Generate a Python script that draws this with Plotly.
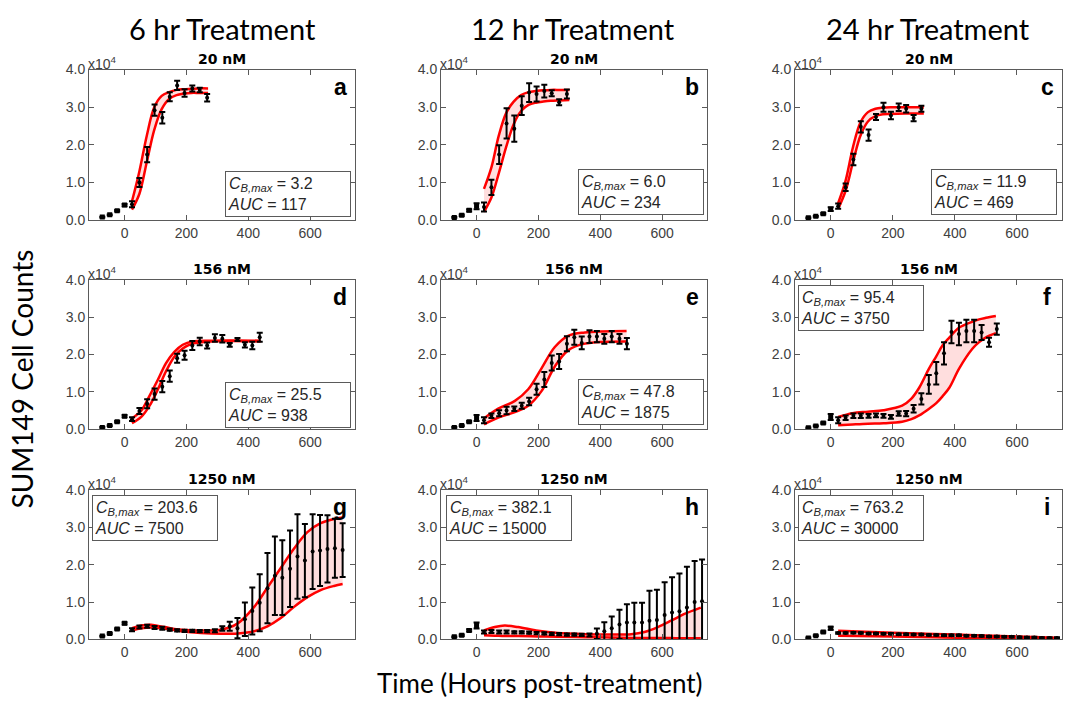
import plotly.graph_objects as go

# ---------------- data (cell counts in units of 1e4) ----------------
PRE_T = [-72, -48, -24, 0]
T = [24, 48, 73, 97, 122, 146, 170, 194, 219, 243, 267, 292, 316, 340, 365,
     389, 413, 437, 462, 486, 510, 535, 559, 583, 608, 632, 656, 680, 705, 729]

COL_TITLES = ["6 hr Treatment", "12 hr Treatment", "24 hr Treatment"]
ROW_TITLES = ["20 nM", "156 nM", "1250 nM"]
LETTERS = ["a", "b", "c", "d", "e", "f", "g", "h", "i"]
CBMAX = ["3.2", "6.0", "11.9", "25.5", "47.8", "95.4", "203.6", "382.1", "763.2"]
AUC = ["117", "234", "469", "938", "1875", "3750", "7500", "15000", "30000"]
X_TICKS = [0, 200, 400, 600]
Y_TICKS = [0, 1, 2, 3, 4]
Y_TICKTEXT = ["0.0", "1.0", "2.0", "3.0", "4.0"]

a_pre = [0.08, 0.14, 0.25, 0.40]
a_pre_e = [0.01, 0.01, 0.02, 0.03]
a_v = [0.42, 1.0, 1.74, 2.92, 2.72, 3.28, 3.58, 3.38, 3.50, 3.46, 3.25]
a_e = [0.08, 0.12, 0.2, 0.15, 0.15, 0.12, 0.12, 0.1, 0.08, 0.06, 0.1]
a_ft = [24, 48, 72, 96, 120, 144, 168, 192, 216, 240, 270]
a_hi = [0.5, 1.3, 2.25, 3.0, 3.3, 3.4, 3.46, 3.48, 3.49, 3.5, 3.5]
a_lo = [0.28, 0.7, 1.55, 2.4, 2.95, 3.22, 3.32, 3.36, 3.38, 3.38, 3.38]

b_pre = [0.07, 0.13, 0.26, 0.37]
b_pre_e = [0.01, 0.02, 0.03, 0.08]
b_v = [0.35, 0.87, 1.74, 2.57, 2.43, 3.04, 3.39, 3.35, 3.43, 3.37, 3.13, 3.35]
b_e = [0.12, 0.2, 0.25, 0.4, 0.35, 0.25, 0.25, 0.2, 0.17, 0.08, 0.08, 0.12]
b_ft = [24, 48, 72, 96, 120, 144, 168, 192, 216, 240, 270, 300]
b_hi = [0.83, 1.4, 2.25, 2.85, 3.15, 3.32, 3.4, 3.43, 3.45, 3.46, 3.46, 3.46]
b_lo = [0.22, 0.6, 1.25, 1.95, 2.55, 2.9, 3.06, 3.12, 3.15, 3.17, 3.18, 3.19]

c_pre = [0.06, 0.10, 0.17, 0.29]
c_pre_e = [0.01, 0.01, 0.02, 0.05]
c_v = [0.37, 0.87, 1.61, 2.48, 2.26, 2.74, 3.0, 2.78, 3.0, 2.96, 2.71, 2.96]
c_e = [0.07, 0.1, 0.15, 0.15, 0.15, 0.08, 0.12, 0.1, 0.1, 0.1, 0.08, 0.08]
c_ft = [24, 48, 72, 96, 120, 144, 168, 192, 240, 300]
c_hi = [0.45, 1.05, 1.95, 2.6, 2.87, 2.96, 2.99, 3.0, 3.0, 3.0]
c_lo = [0.3, 0.78, 1.55, 2.25, 2.62, 2.76, 2.81, 2.82, 2.83, 2.83]

d_pre = [0.05, 0.10, 0.20, 0.35]
d_pre_e = [0.01, 0.01, 0.02, 0.03]
d_v = [0.27, 0.49, 0.68, 0.94, 1.14, 1.42, 1.9, 1.98, 2.24, 2.35, 2.24, 2.44,
       2.42, 2.26, 2.4, 2.26, 2.24, 2.46]
d_e = [0.05, 0.08, 0.12, 0.15, 0.15, 0.15, 0.12, 0.12, 0.12, 0.1, 0.08, 0.1,
       0.1, 0.05, 0.04, 0.07, 0.1, 0.12]
d_ft = [24, 54, 81, 108, 134, 161, 188, 220, 280, 440]
d_hi = [0.29, 0.5, 0.9, 1.33, 1.77, 2.07, 2.26, 2.35, 2.37, 2.37]
d_lo = [0.16, 0.33, 0.63, 1.07, 1.55, 1.94, 2.16, 2.29, 2.35, 2.35]

e_pre = [0.05, 0.10, 0.20, 0.30]
e_pre_e = [0.01, 0.01, 0.02, 0.08]
e_v = [0.24, 0.36, 0.43, 0.5, 0.55, 0.63, 0.74, 1.07, 1.33, 1.77, 1.81, 2.29,
       2.46, 2.31, 2.48, 2.48, 2.42, 2.48, 2.42, 2.29]
e_e = [0.08, 0.06, 0.08, 0.1, 0.06, 0.08, 0.1, 0.15, 0.2, 0.2, 0.2, 0.2,
       0.2, 0.17, 0.17, 0.15, 0.13, 0.15, 0.13, 0.15]
e_ft = [24, 70, 124, 167, 210, 253, 296, 350, 485]
e_hi = [0.29, 0.55, 0.76, 1.07, 1.63, 2.2, 2.5, 2.59, 2.63]
e_lo = [0.13, 0.31, 0.46, 0.63, 1.02, 1.68, 2.11, 2.29, 2.35]

f_pre = [0.04, 0.09, 0.17, 0.33]
f_pre_e = [0.01, 0.01, 0.02, 0.08]
f_v = [0.24, 0.31, 0.36, 0.36, 0.36, 0.37, 0.36, 0.33, 0.42, 0.42, 0.55, 0.81,
       1.2, 1.5, 2.03, 2.6, 2.55, 2.63, 2.63, 2.59, 2.33, 2.68]
f_e = [0.08, 0.06, 0.06, 0.06, 0.05, 0.05, 0.05, 0.05, 0.06, 0.07, 0.1, 0.15,
       0.25, 0.3, 0.3, 0.3, 0.3, 0.3, 0.3, 0.2, 0.12, 0.15]
f_ft = [24, 70, 120, 170, 230, 260, 285, 317, 340, 360, 382, 414, 457, 478, 500, 532]
f_hi = [0.33, 0.43, 0.47, 0.51, 0.63, 0.82, 1.11, 1.63, 1.95, 2.24, 2.45, 2.72,
        2.88, 2.94, 2.98, 3.03]
f_lo = [0.11, 0.13, 0.15, 0.16, 0.2, 0.27, 0.37, 0.55, 0.7, 0.88, 1.11, 1.63,
        2.16, 2.33, 2.46, 2.57]

g_pre = [0.09, 0.16, 0.28, 0.43]
g_pre_e = [0.01, 0.02, 0.02, 0.03]
g_v = [0.26, 0.33, 0.35, 0.32, 0.30, 0.26, 0.24, 0.23, 0.23, 0.22, 0.22, 0.23,
       0.29, 0.35, 0.3, 0.54, 0.76, 0.98, 1.37, 1.7, 1.65, 1.89, 2.22, 2.11,
       2.35, 2.38, 2.42, 2.44, 2.39]
g_e = [0.04, 0.04, 0.04, 0.04, 0.04, 0.03, 0.03, 0.03, 0.03, 0.03, 0.03, 0.04,
       0.06, 0.12, 0.27, 0.45, 0.63, 0.76, 0.94, 1.05, 1.0, 1.02, 1.13, 0.98,
       1.0, 0.95, 0.9, 0.79, 0.72]
g_ft = [24, 54, 86, 129, 183, 247, 312, 366, 419, 462, 505, 548, 591, 634, 677, 705]
g_hi = [0.3, 0.37, 0.39, 0.33, 0.26, 0.24, 0.26, 0.43, 0.87, 1.39, 1.91, 2.43,
        2.87, 3.11, 3.22, 3.26]
g_lo = [0.24, 0.3, 0.32, 0.29, 0.22, 0.17, 0.15, 0.16, 0.22, 0.35, 0.57, 0.87,
        1.13, 1.32, 1.43, 1.48]

h_pre = [0.07, 0.11, 0.24, 0.37]
h_pre_e = [0.01, 0.02, 0.03, 0.08]
h_v = [0.2, 0.21, 0.2, 0.2, 0.19, 0.19, 0.18, 0.17, 0.16, 0.15, 0.14, 0.13,
       0.13, 0.12, 0.12, 0.15, 0.22, 0.3, 0.4, 0.45, 0.45, 0.45, 0.5, 0.52,
       0.65, 0.72, 0.75, 0.85, 1.0, 1.02]
h_e = [0.04, 0.04, 0.04, 0.04, 0.03, 0.03, 0.03, 0.03, 0.03, 0.03, 0.03, 0.03,
       0.03, 0.03, 0.04, 0.14, 0.24, 0.31, 0.39, 0.49, 0.53, 0.53, 0.8, 0.81,
       0.88, 0.94, 1.01, 1.09, 1.1, 1.12]
h_ft = [24, 59, 91, 134, 199, 263, 349, 435, 500, 543, 586, 629, 672, 725]
h_hi = [0.24, 0.33, 0.37, 0.33, 0.23, 0.17, 0.14, 0.13, 0.14, 0.2, 0.33, 0.5, 0.68, 0.85]
h_lo = [0.11, 0.1, 0.09, 0.09, 0.08, 0.07, 0.06, 0.05, 0.04, 0.04, 0.035, 0.035, 0.03, 0.03]

i_pre = [0.04, 0.10, 0.20, 0.30]
i_pre_e = [0.01, 0.01, 0.02, 0.04]
i_v = [0.17, 0.17, 0.18, 0.17, 0.16, 0.16, 0.15, 0.15, 0.14, 0.14, 0.13, 0.13,
       0.12, 0.12, 0.11, 0.11, 0.11, 0.1, 0.1, 0.09, 0.08, 0.08, 0.07, 0.07,
       0.06, 0.05, 0.05, 0.04, 0.04, 0.035]
i_e = [0.02] * 30
i_ft = [24, 200, 400, 600, 729]
i_hi = [0.23, 0.18, 0.13, 0.075, 0.045]
i_lo = [0.1, 0.075, 0.045, 0.02, 0.008]

PANELS = [
    (a_pre, a_pre_e, a_v, a_e, a_ft, a_hi, a_lo),
    (b_pre, b_pre_e, b_v, b_e, b_ft, b_hi, b_lo),
    (c_pre, c_pre_e, c_v, c_e, c_ft, c_hi, c_lo),
    (d_pre, d_pre_e, d_v, d_e, d_ft, d_hi, d_lo),
    (e_pre, e_pre_e, e_v, e_e, e_ft, e_hi, e_lo),
    (f_pre, f_pre_e, f_v, f_e, f_ft, f_hi, f_lo),
    (g_pre, g_pre_e, g_v, g_e, g_ft, g_hi, g_lo),
    (h_pre, h_pre_e, h_v, h_e, h_ft, h_hi, h_lo),
    (i_pre, i_pre_e, i_v, i_e, i_ft, i_hi, i_lo),
]

W, H = 1070, 708
COLS = [(89, 355), (441, 707), (795, 1062)]
ROWS = [(63, 217), (278, 431), (493, 646)]
XR = [-115, 745]
YR = [0, 4]

BOX_POS = [
    (351, 214, "right", "bottom"), (704, 212, "right", "bottom"), (1057, 212, "right", "bottom"),
    (351, 430, "right", "bottom"), (704, 427, "right", "bottom"), (798, 283, "left", "top"),
    (92, 498, "left", "top"), (446, 498, "left", "top"), (798, 498, "left", "top"),
]
COL_TITLE_X = [222, 573, 928]

AX_COLOR = "#5a5a5a"
TICK_FONT = dict(family="Liberation Sans", size=14, color="#404040")
RED = "#ff0000"
PINK = "rgba(255,0,0,0.13)"


def px(x):
    return x / W


def py(y):
    return 1 - y / H


fig = go.Figure()
annotations = []

for k, (pre, pre_e, v, e, ft, hi, lo) in enumerate(PANELS):
    r, c = divmod(k, 3)
    sfx = "" if k == 0 else str(k + 1)
    xa, ya = "x" + sfx, "y" + sfx
    t = T[:len(v)]

    # shaded band between the two model curves
    fig.add_trace(go.Scatter(x=ft, y=lo, mode="lines", line=dict(width=0, shape="spline"),
                             xaxis=xa, yaxis=ya, showlegend=False, hoverinfo="skip"))
    fig.add_trace(go.Scatter(x=ft, y=hi, mode="lines", line=dict(width=0, shape="spline"),
                             fill="tonexty", fillcolor=PINK,
                             xaxis=xa, yaxis=ya, showlegend=False, hoverinfo="skip"))
    # model curves
    for yy in (hi, lo):
        fig.add_trace(go.Scatter(x=ft, y=yy, mode="lines",
                                 line=dict(color=RED, width=2.5, shape="spline"),
                                 xaxis=xa, yaxis=ya, showlegend=False))
    # measured data
    fig.add_trace(go.Scatter(x=PRE_T, y=pre, mode="markers",
                             marker=dict(symbol="square", size=5, color="black"),
                             error_y=dict(type="data", array=pre_e, color="black",
                                          thickness=2, width=3),
                             xaxis=xa, yaxis=ya, showlegend=False))
    fig.add_trace(go.Scatter(x=t, y=v, mode="markers",
                             marker=dict(symbol="circle", size=4, color="black"),
                             error_y=dict(type="data", array=e, color="black",
                                          thickness=2, width=3),
                             xaxis=xa, yaxis=ya, showlegend=False))

    x0, x1 = COLS[c]
    y0, y1 = ROWS[r]
    common = dict(showgrid=False, zeroline=False, showline=True, linecolor=AX_COLOR,
                  linewidth=1, mirror="ticks", ticks="inside", ticklen=5,
                  tickcolor=AX_COLOR, tickwidth=1, tickfont=TICK_FONT)
    fig.layout["xaxis" + sfx] = dict(domain=[px(x0), px(x1)], range=XR, anchor=ya,
                                     tickvals=X_TICKS, **common)
    fig.layout["yaxis" + sfx] = dict(domain=[py(y1), py(y0)], range=YR, anchor=xa,
                                     tickvals=Y_TICKS, ticktext=Y_TICKTEXT, **common)

    annotations.append(dict(text="x10<sup>4</sup>", x=px(x0 - 3), y=py(y0 - 7),
                            xref="paper", yref="paper", xanchor="left", yanchor="middle",
                            showarrow=False, font=dict(family="Liberation Sans", size=14,
                                                       color="#404040")))
    annotations.append(dict(text="<b>%s</b>" % ROW_TITLES[r], x=px((x0 + x1) / 2),
                            y=py(y0 - 11), xref="paper", yref="paper", xanchor="center",
                            yanchor="middle", showarrow=False,
                            font=dict(family="DejaVu Sans", size=14, color="black")))
    annotations.append(dict(text="<b>%s</b>" % LETTERS[k], x=px(x1 - 15), y=py(y0 + 18),
                            xref="paper", yref="paper", xanchor="center", yanchor="middle",
                            showarrow=False,
                            font=dict(family="Liberation Sans", size=23, color="black")))
    bx, by, xan, yan = BOX_POS[k]
    annotations.append(dict(
        text="<i>C</i><sub><i>B,max</i></sub> = %s<br><i>AUC</i> = %s" % (CBMAX[k], AUC[k]),
        x=px(bx), y=py(by), xref="paper", yref="paper", xanchor=xan, yanchor=yan,
        showarrow=False, align="left", valign="middle", width=120, height=40,
        bordercolor=AX_COLOR, borderwidth=1, borderpad=2, bgcolor="white",
        font=dict(family="Liberation Sans", size=16, color="#262626")))

for c in range(3):
    annotations.append(dict(text=COL_TITLES[c], x=px(COL_TITLE_X[c]), y=py(21),
                            xref="paper", yref="paper", xanchor="center", yanchor="middle",
                            showarrow=False, font=dict(family="Lato", size=29, color="black")))

annotations.append(dict(text="SUM149 Cell Counts", x=px(22), y=py(380), xref="paper",
                        yref="paper", xanchor="center", yanchor="middle", textangle=-90,
                        showarrow=False, font=dict(family="Lato", size=28, color="black")))
annotations.append(dict(text="Time (Hours post-treatment)", x=px(540), y=py(691),
                        xref="paper", yref="paper", xanchor="center", yanchor="middle",
                        showarrow=False, font=dict(family="Lato", size=26, color="black")))

fig.update_layout(width=W, height=H, margin=dict(l=0, r=0, t=0, b=0),
                  paper_bgcolor="white", plot_bgcolor="white",
                  annotations=annotations, showlegend=False)

fig.write_html("out.html")
